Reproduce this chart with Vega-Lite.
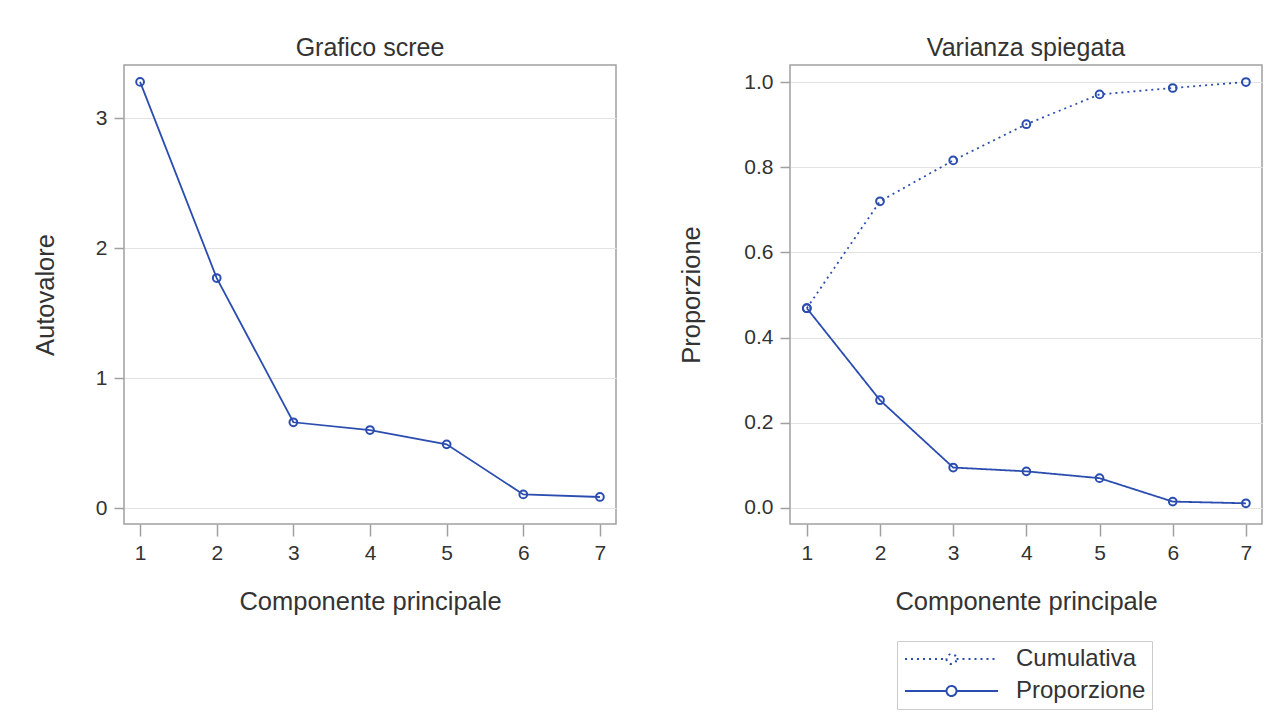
{
  "$schema": "https://vega.github.io/schema/vega-lite/v6.json",
  "padding": {"left": 32, "top": 35, "right": 5, "bottom": 5},
  "background": "white",
  "spacing": 62,
  "datasets": {
    "autovalori": [
      {"componente": 1, "autovalore": 3.28},
      {"componente": 2, "autovalore": 1.77},
      {"componente": 3, "autovalore": 0.66},
      {"componente": 4, "autovalore": 0.60},
      {"componente": 5, "autovalore": 0.49},
      {"componente": 6, "autovalore": 0.105},
      {"componente": 7, "autovalore": 0.085}
    ],
    "varianza": [
      {"componente": 1, "serie": "Cumulativa", "valore": 0.469},
      {"componente": 2, "serie": "Cumulativa", "valore": 0.720},
      {"componente": 3, "serie": "Cumulativa", "valore": 0.816},
      {"componente": 4, "serie": "Cumulativa", "valore": 0.901},
      {"componente": 5, "serie": "Cumulativa", "valore": 0.971},
      {"componente": 6, "serie": "Cumulativa", "valore": 0.986},
      {"componente": 7, "serie": "Cumulativa", "valore": 1.0},
      {"componente": 1, "serie": "Proporzione", "valore": 0.469},
      {"componente": 2, "serie": "Proporzione", "valore": 0.253},
      {"componente": 3, "serie": "Proporzione", "valore": 0.095},
      {"componente": 4, "serie": "Proporzione", "valore": 0.086},
      {"componente": 5, "serie": "Proporzione", "valore": 0.070},
      {"componente": 6, "serie": "Proporzione", "valore": 0.015},
      {"componente": 7, "serie": "Proporzione", "valore": 0.011}
    ]
  },
  "hconcat": [
    {
      "width": 492,
      "height": 459,
      "title": {"text": "Grafico scree"},
      "data": {"name": "autovalori"},
      "layer": [
        {
          "mark": {"type": "line", "color": "#2B4DB0", "strokeWidth": 1.8},
          "encoding": {
            "x": {"field": "componente", "type": "quantitative", "scale": {"domain": [0.79, 7.21], "nice": false, "zero": false},
              "axis": {"values": [1, 2, 3, 4, 5, 6, 7], "format": "d", "title": "Componente principale", "grid": false}},
            "y": {"field": "autovalore", "type": "quantitative", "scale": {"domain": [-0.123, 3.41], "nice": false, "zero": false},
              "axis": {"values": [0, 1, 2, 3], "format": "d", "title": "Autovalore", "grid": true, "titlePadding": 37}}
          }
        },
        {
          "mark": {"type": "point", "shape": "circle", "filled": false, "color": "#2B4DB0", "size": 60, "strokeWidth": 2, "opacity": 1},
          "encoding": {
            "x": {"field": "componente", "type": "quantitative"},
            "y": {"field": "autovalore", "type": "quantitative"}
          }
        }
      ]
    },
    {
      "width": 472,
      "height": 459,
      "title": {"text": "Varianza spiegata"},
      "data": {"name": "varianza"},
      "layer": [
        {
          "mark": {"type": "line", "color": "#2B4DB0", "strokeWidth": 1.8},
          "encoding": {
            "x": {"field": "componente", "type": "quantitative", "scale": {"domain": [0.77, 7.22], "nice": false, "zero": false},
              "axis": {"values": [1, 2, 3, 4, 5, 6, 7], "format": "d", "title": "Componente principale", "grid": false}},
            "y": {"field": "valore", "type": "quantitative", "scale": {"domain": [-0.0376, 1.04], "nice": false, "zero": false},
              "axis": {"values": [0, 0.2, 0.4, 0.6, 0.8, 1.0], "format": ".1f", "title": "Proporzione", "grid": true, "titlePadding": 39}},
            "strokeDash": {"field": "serie", "type": "nominal",
              "scale": {"domain": ["Cumulativa", "Proporzione"], "range": [[2, 4], [1, 0]]},
              "legend": {
                "title": null,
                "orient": "none",
                "legendX": 773,
                "legendY": 576,
                "direction": "vertical",
                "symbolType": "M-1,0L3.15,0M4.15,0L8.3,0M3.15,0A0.5,0.5,0,1,0,4.15,0A0.5,0.5,0,1,0,3.15,0",
                "symbolSize": 400,
                "symbolStrokeColor": "#2B4DB0",
                "symbolStrokeWidth": 2,
                "symbolFillColor": "transparent",
                "labelFontSize": 24,
                "labelFont": "Liberation Sans",
                "labelColor": "#333333",
                "labelOffset": 89,
                "rowPadding": 8,
                "padding": 6,
                "strokeColor": "#cccccc",
                "fillColor": "white"
              }}
          }
        },
        {
          "mark": {"type": "point", "shape": "circle", "filled": false, "color": "#2B4DB0", "size": 60, "strokeWidth": 2, "opacity": 1},
          "encoding": {
            "x": {"field": "componente", "type": "quantitative"},
            "y": {"field": "valore", "type": "quantitative"}
          }
        }
      ]
    }
  ],
  "config": {
    "font": "Liberation Sans",
    "view": {"stroke": "#a0a0a0", "strokeWidth": 1.5},
    "title": {"fontSize": 25, "font": "Liberation Sans", "fontWeight": "normal", "color": "#333333", "offset": 4, "anchor": "middle"},
    "axis": {
      "domain": false,
      "tickColor": "#a0a0a0",
      "tickSize": 10,
      "tickWidth": 1.5,
      "labelFontSize": 21,
      "labelFont": "Liberation Sans",
      "labelColor": "#333333",
      "labelPadding": 7,
      "titleFontSize": 25.5,
      "titleFont": "Liberation Sans",
      "titleFontWeight": "normal",
      "titleColor": "#333333",
      "gridColor": "#e3e3e3",
      "gridWidth": 1.2
    },
    "axisX": {"tickSize": 12, "labelPadding": 6, "titlePadding": 26, "labelFlush": false},
    "axisY": {"labelFlush": false}
  }
}
